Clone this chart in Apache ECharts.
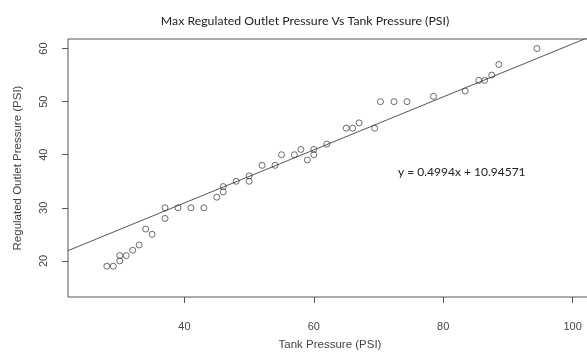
<!DOCTYPE html>
<html>
<head>
<meta charset="utf-8">
<script src="https://cdn.jsdelivr.net/npm/echarts@6/dist/echarts.min.js"></script>
<style>html,body{margin:0;padding:0;background:#fff}#c{width:587px;height:352px}</style>
</head>
<body>
<div id="c"></div>
<script>
var tankPressure = [28,29,30,30,31,32,33,34,35,37,37,39,41,43,45,46,46,48,50,50,52,54,55,57,58,59,60,60,62,65,66,67,69.4,70.3,72.4,74.4,78.5,83.4,85.5,86.4,87.5,88.6,94.5];
var outletPressure = [19,19,20,21,21,22,23,26,25,28,30,30,30,30,32,33,34,35,35,36,38,38,40,40,41,39,41,40,42,45,45,46,45,50,50,50,51,52,54,54,55,57,60];
var xTicks = [40,60,80,100];
var yTicks = [20,30,40,50,60];
var fitSlope = [0.4994];
var fitIntercept = [10.94571];
var xRange = [22,103];
var yRange = [13.2,61.8];
var titleText = 'Max Regulated Outlet Pressure Vs Tank Pressure (PSI)';
var eqText = 'y = 0.4994x + 10.94571';

var points = tankPressure.map(function(x,i){return [x, outletPressure[i]];});
var fitLine = xRange.map(function(x){return [x, fitSlope[0]*x + fitIntercept[0]];});

var chart = echarts.init(document.getElementById('c'), null, {renderer:'canvas'});
var axisFont = {fontFamily:'Liberation Sans, Arial, sans-serif', fontSize:11, color:'#444'};
var nameFont = {fontFamily:'Liberation Sans, Arial, sans-serif', fontSize:11.5, color:'#444'};
chart.setOption({
  animation:false,
  backgroundColor:'#fff',
  title:{text:titleText, left:300, top:10, textAlign:'center',
    textStyle:{fontFamily:'Lato, sans-serif', fontSize:12.3, fontWeight:'normal', color:'#222'}},
  grid:{left:68, top:39, width:524, height:258, show:true, borderColor:'#555', borderWidth:1, containLabel:false, outerBoundsMode:'none'},
  xAxis:{type:'value', min:xRange[0], max:xRange[1],
    name:'Tank Pressure (PSI)', nameLocation:'middle', nameGap:42,
    nameTextStyle:nameFont,
    axisLine:{show:false}, splitLine:{show:false},
    axisTick:{show:true, customValues:xTicks, length:6, inside:false, lineStyle:{color:'#555'}},
    axisLabel:Object.assign({customValues:xTicks, margin:24}, axisFont)},
  yAxis:{type:'value', min:yRange[0], max:yRange[1],
    name:'Regulated Outlet Pressure (PSI)', nameLocation:'middle', nameGap:44,
    nameTextStyle:nameFont,
    axisLine:{show:false}, splitLine:{show:false},
    axisTick:{show:true, customValues:yTicks, length:6, inside:false, lineStyle:{color:'#555'}},
    axisLabel:Object.assign({customValues:yTicks, margin:19, rotate:90}, axisFont)},
  graphic:[{type:'text', left:398, top:166, style:{text:eqText, font:'12px Lato, sans-serif', fill:'#222'}}],
  series:[
    {type:'line', data:fitLine, symbol:'none', clip:true, lineStyle:{color:'#555', width:1}, silent:true, z:1},
    {type:'scatter', data:points, symbol:'circle', symbolSize:6,
     itemStyle:{color:'rgba(255,255,255,0)', borderColor:'#333', borderWidth:0.9}, z:2}
  ]
});
</script>
</body>
</html>
